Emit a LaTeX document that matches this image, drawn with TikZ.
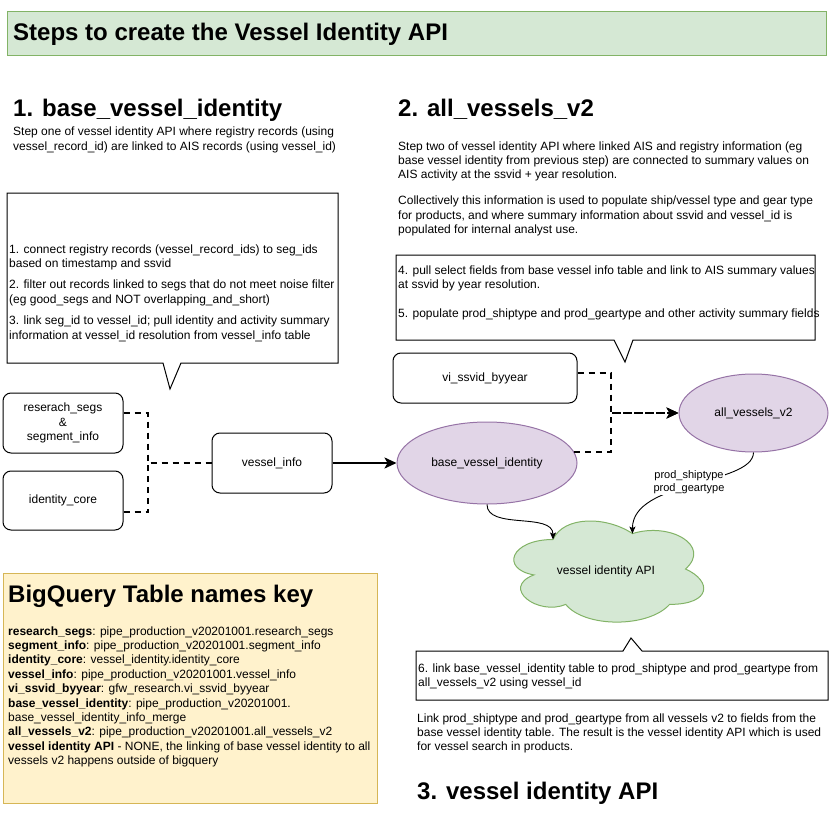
\documentclass[tikz,border=0pt]{standalone}
\usepackage{fontspec}
\setmainfont{Liberation Sans}
\usetikzlibrary{arrows.meta,calc,shapes.geometric}
\definecolor{gfill}{HTML}{D5E8D4}
\definecolor{gline}{HTML}{82B366}
\definecolor{pfill}{HTML}{E1D5E7}
\definecolor{pline}{HTML}{9673A6}
\definecolor{yfill}{HTML}{FFF2CC}
\definecolor{yline}{HTML}{D6B656}
\tikzset{
  txt/.style={anchor=base west, inner sep=0pt, align=left, font=\fontsize{12}{14.4}\selectfont},
  head/.style={anchor=base west, inner sep=0pt, font=\fontsize{24}{28}\selectfont\bfseries},
  tbox/.style={draw, line width=1pt, rounded corners=8pt, align=center, inner sep=0pt,
    font=\fontsize{12}{14.4}\selectfont, minimum width=120pt, minimum height=60pt},
  oval/.style={ellipse, draw=pline, fill=pfill, line width=1pt, inner sep=0pt,
    font=\fontsize{12}{14.4}\selectfont},
  callout/.style={draw, fill=white, line width=1pt},
  dashline/.style={line width=2pt, dash pattern=on 6pt off 5pt},
  bigarrow/.style={-{Stealth[length=12pt,width=11pt,inset=3pt]}},
  smallarrow/.style={line width=0.9pt, -{Stealth[length=7pt,width=6pt,inset=1.5pt]}},
  lbl/.style={fill=white, inner sep=1pt, align=center, font=\fontsize{11}{13.2}\selectfont}
}
\begin{document}
\begin{tikzpicture}[x=1pt,y=-1pt]
\useasboundingbox (0,0) rectangle (830,824);

% title
\draw[draw=gline, fill=gfill, line width=1pt] (7,12) rectangle (826,56);
\node[head] (title) at (13,41) {Steps to create the Vessel Identity API};

% headings and paragraphs (base anchor = baseline of last line)
\node[head] (h1) at (13,117) {1. base\_vessel\_identity};
\node[txt] (p1) at (13,150.4) {Step one of vessel identity API where registry records (using\\vessel\_record\_id) are linked to AIS records (using vessel\_id)};

\node[head] (h2) at (398,117) {2. all\_vessels\_v2};
\node[txt] (p2) at (398,233.6) {Step two of vessel identity API where linked AIS and registry information (eg\\base vessel identity from previous step) are connected to summary values on\\AIS activity at the ssvid + year resolution.\\[11.6pt]Collectively this information is used to populate ship/vessel type and gear type\\for products, and where summary information about ssvid and vessel\_id is\\populated for internal analyst use.};

% left callout
\draw[callout] (7,193) -- (338,193) -- (338,363) -- (181,363) -- (170,389) -- (163,363) -- (7,363) -- cycle;
\node[txt] (c1text) at (9,339) {1. connect registry records (vessel\_record\_ids) to seg\_ids\\based on timestamp and ssvid\\[7pt]2. filter out records linked to segs that do not meet noise filter\\(eg good\_segs and NOT overlapping\_and\_short)\\[7pt]3. link seg\_id to vessel\_id; pull identity and activity summary\\information at vessel\_id resolution from vessel\_info table};

% right callout
\draw[callout] (396,255) -- (815,255) -- (815,340) -- (633,340) -- (625,362) -- (614,340) -- (396,340) -- cycle;
\node[txt] (c2text) at (398,317) {4. pull select fields from base vessel info table and link to AIS summary values\\at ssvid by year resolution.\\[14pt]5. populate prod\_shiptype and prod\_geartype and other activity summary fields};

% boxes
\node[tbox] (rs) at (63,423) {reserach\_segs\\\&\\segment\_info};
\node[tbox, minimum height=59pt] (ic) at (63,500.5) {identity\_core};
\node[tbox] (vinfo) at (272,463) {vessel\_info};
\node[tbox, minimum width=184pt, minimum height=50pt] (vy) at (485,378) {vi\_ssvid\_byyear};
\node[oval, minimum width=180pt, minimum height=82pt] (base) at (487,463) {base\_vessel\_identity};
\node[oval, minimum width=149pt, minimum height=78pt] (av) at (753.5,413) {all\_vessels\_v2};

% cloud
\begin{scope}[xshift=500pt, yshift=-510pt, x=212pt, y=-118pt]
\draw[draw=gline, fill=gfill, line width=1pt]
  (0.25,0.25) .. controls (0.05,0.25) and (0,0.5) .. (0.16,0.55)
  .. controls (0,0.66) and (0.18,0.9) .. (0.31,0.8)
  .. controls (0.4,1) and (0.7,1) .. (0.8,0.8)
  .. controls (1,0.8) and (1,0.6) .. (0.875,0.5)
  .. controls (1,0.3) and (0.8,0.1) .. (0.625,0.2)
  .. controls (0.5,0.05) and (0.3,0.05) .. (0.25,0.25) -- cycle;
\end{scope}
\node[inner sep=0pt, font=\fontsize{12}{14.4}\selectfont] (api) at (606,571) {vessel identity API};
\coordinate (apiA) at (553,539.5);
\coordinate (apiB) at (632.5,533.6);

% connectors
\coordinate (j1) at (148,463);
\coordinate (j2) at (611,413);
\draw[dashline] ([yshift=10pt]rs.east) -| (j1) -- (vinfo.west);
\draw[dashline] ([yshift=-11.5pt]ic.east) -| (j1);
\draw[line width=2pt, bigarrow] (vinfo.east) -- (base.west);
\draw[dashline, bigarrow] ([yshift=5pt]vy.east) -| (j2) -- (av.west);
\draw[dashline, bigarrow] (base.7) -| (j2) -- (av.west);
\draw[smallarrow] (base.south) .. controls (487,530) and (553,512) .. (apiA);
\draw[smallarrow] (av.south) .. controls (753,485) and (632,480) .. (apiB);
\node[lbl] (lab) at (689,482) {prod\_shiptype\\prod\_geartype};

% bottom callout
\draw[callout] (416,651) -- (623,651) -- (631,638) -- (642,651) -- (828,651) -- (828,700) -- (416,700) -- cycle;
\node[txt] (c3text) at (418,686.4) {6. link base\_vessel\_identity table to prod\_shiptype and prod\_geartype from\\all\_vessels\_v2 using vessel\_id};
\node[txt] (p3) at (417,750.8) {Link prod\_shiptype and prod\_geartype from all vessels v2 to fields from the\\base vessel identity table. The result is the vessel identity API which is used\\for vessel search in products.};
\node[head] (h3) at (417,799) {3. vessel identity API};

% key
\draw[draw=yline, fill=yfill, line width=1pt] (3,573) rectangle (377,803);
\node[head] (keyh) at (8,602) {BigQuery Table names key};
\node[txt] (keytext) at (8,764.6) {\textbf{research\_segs}: pipe\_production\_v20201001.research\_segs\\
\textbf{segment\_info}: pipe\_production\_v20201001.segment\_info\\
\textbf{identity\_core}: vessel\_identity.identity\_core\\
\textbf{vessel\_info}: pipe\_production\_v20201001.vessel\_info\\
\textbf{vi\_ssvid\_byyear}: gfw\_research.vi\_ssvid\_byyear\\
\textbf{base\_vessel\_identity}: pipe\_production\_v20201001.\\
base\_vessel\_identity\_info\_merge\\
\textbf{all\_vessels\_v2}: pipe\_production\_v20201001.all\_vessels\_v2\\
\textbf{vessel identity API} - NONE, the linking of base vessel identity to all\\
vessels v2 happens outside of bigquery};
\end{tikzpicture}
\end{document}
